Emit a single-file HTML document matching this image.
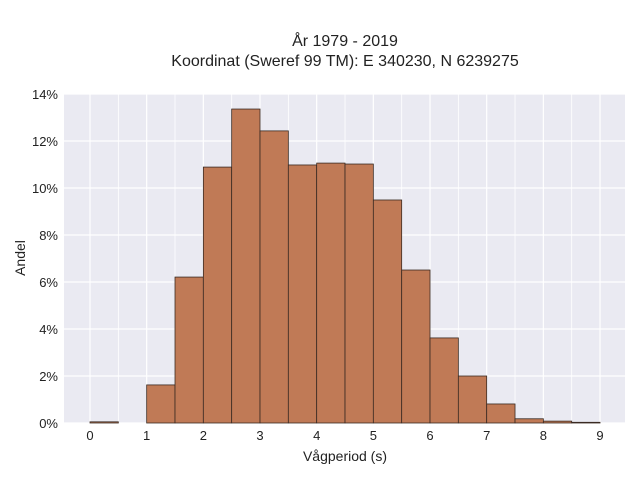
<!DOCTYPE html>
<html><head><meta charset="utf-8"><style>
body{margin:0;background:#fff;}
svg{font-family:"Liberation Sans",sans-serif;}
</style></head><body>
<svg id="c" width="640" height="480" xmlns="http://www.w3.org/2000/svg">
<text x="345" y="46" text-anchor="middle" font-size="16" fill="#222">År 1979 - 2019</text>
<text x="345" y="66" text-anchor="middle" font-size="16" fill="#222">Koordinat (Sweref 99 TM): E 340230, N 6239275</text>
<rect x="64" y="94" width="561" height="329" fill="#eaeaf2"/>
<g id="grid"></g><g id="bars"></g><g id="ticks"></g>
<text x="345" y="461" text-anchor="middle" font-size="14" fill="#222">Vågperiod (s)</text>
<text transform="translate(25,258) rotate(-90)" text-anchor="middle" font-size="14" fill="#222">Andel</text>
</svg>
<script>
const bins = [0,0.5,1,1.5,2,2.5,3,3.5,4,4.5,5,5.5,6,6.5,7,7.5,8,8.5];
const vals = [0.05,0,1.62,6.21,10.89,13.36,12.43,10.98,11.06,11.02,9.49,6.51,3.62,2.0,0.81,0.18,0.08,0.03];
const xTicks = [0,1,2,3,4,5,6,7,8,9];
const yTicks = [0,2,4,6,8,10,12,14];
const binW = 0.5;
const X = v => 90 + v*56.67;
const Y = v => 423 - v*23.5;
const NS='http://www.w3.org/2000/svg';
const g=document.getElementById('grid'), b=document.getElementById('bars'), t=document.getElementById('ticks');
function mk(tag,attrs,parent){const e=document.createElementNS(NS,tag);for(const k in attrs)e.setAttribute(k,attrs[k]);parent.appendChild(e);return e;}
for(let v=0; v<=9; v+=0.5){
  const l=mk('line',{x1:X(v),x2:X(v),y1:94,y2:423,stroke:'#fff','stroke-width':v%1===0?1.2:0.8},g);
  
  
}
yTicks.forEach(v=>{
  const l=mk('line',{x1:64,x2:625,y1:Y(v),y2:Y(v),stroke:'#fff','stroke-width':1.2},g);
  
  
  const tx=mk('text',{x:58,y:Y(v)+5,'text-anchor':'end','font-size':13,fill:'#222'},t);
  tx.textContent=v+'%';
  
  
});
xTicks.forEach(v=>{
  const tx=mk('text',{x:X(v),y:440,'text-anchor':'middle','font-size':13,fill:'#222'},t);
  tx.textContent=v;
  
  
});
bins.forEach((s,i)=>{
  if(vals[i]<=0) return;
  const r=mk('rect',{x:X(s),y:Y(vals[i]),width:X(s+binW)-X(s),height:Y(0)-Y(vals[i]),fill:'#c07a56',stroke:'#3a2a22','stroke-width':0.8},b);
  
  
});
</script>
</body></html>
